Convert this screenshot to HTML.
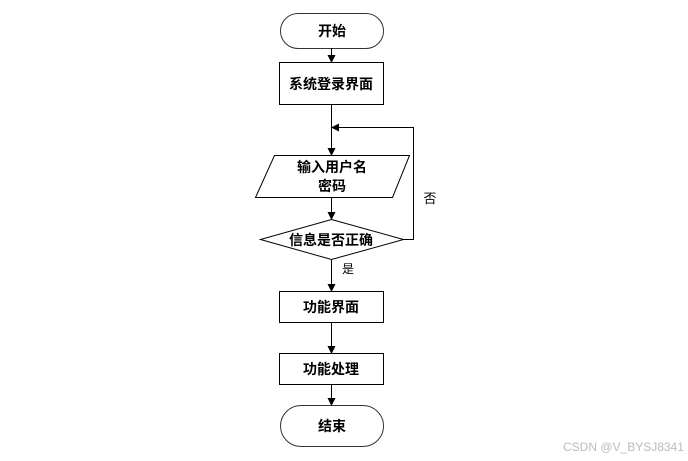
<!DOCTYPE html>
<html><head><meta charset="utf-8"><style>
html,body{margin:0;padding:0;background:#fff;}
svg{display:block;}
text{font-family:"Liberation Sans","Noto Sans CJK SC",sans-serif;}
</style></head><body>
<svg width="688" height="461" viewBox="0 0 688 461" xmlns="http://www.w3.org/2000/svg">
<defs><marker id="a" markerWidth="8" markerHeight="8" refX="7" refY="4" orient="auto" markerUnits="userSpaceOnUse"><path d="M0,0 L8,4 L0,8 z" fill="#000"/></marker></defs>
<g fill="none" stroke="#000" stroke-width="1">
<rect x="280.5" y="13.5" width="103" height="35" rx="17.5" stroke="#333"/>
<rect x="279.5" y="62.5" width="104" height="42"/>
<polygon points="274.5,155.5 409.5,155.5 392.5,197.5 255.5,197.5"/>
<polygon points="331.5,219.5 403.5,239.5 331.5,259.5 260.5,239.5"/>
<rect x="279.5" y="291.5" width="104" height="31"/>
<rect x="279.5" y="353.5" width="104" height="31"/>
<rect x="280.5" y="405.5" width="103" height="41" rx="20.5" stroke="#333"/>
<line x1="331.5" y1="48" x2="331.5" y2="62" marker-end="url(#a)"/>
<line x1="331.5" y1="105" x2="331.5" y2="155" marker-end="url(#a)"/>
<line x1="331.5" y1="198" x2="331.5" y2="219" marker-end="url(#a)"/>
<polyline points="403.5,239.5 413.5,239.5 413.5,127.5 332,127.5" marker-end="url(#a)"/>
<line x1="331.5" y1="260" x2="331.5" y2="291" marker-end="url(#a)"/>
<line x1="331.5" y1="323" x2="331.5" y2="353" marker-end="url(#a)"/>
<line x1="331.5" y1="385" x2="331.5" y2="405" marker-end="url(#a)"/>
</g>
<g font-size="14" font-weight="bold" text-anchor="middle" fill="#000">
<text x="332" y="36">开始</text>
<text x="331" y="89">系统登录界面</text>
<text x="332" y="172">输入用户名</text>
<text x="332" y="191">密码</text>
<text x="331" y="245">信息是否正确</text>
<text x="331" y="312">功能界面</text>
<text x="331" y="374">功能处理</text>
<text x="332" y="431">结束</text>
</g>
<text x="348" y="273" font-size="12" text-anchor="middle">是</text>
<text x="430" y="203" font-size="13" text-anchor="middle">否</text>
<text x="563" y="451" font-size="12" fill="#bbb">CSDN @V_BYSJ8341</text>
</svg>
</body></html>
